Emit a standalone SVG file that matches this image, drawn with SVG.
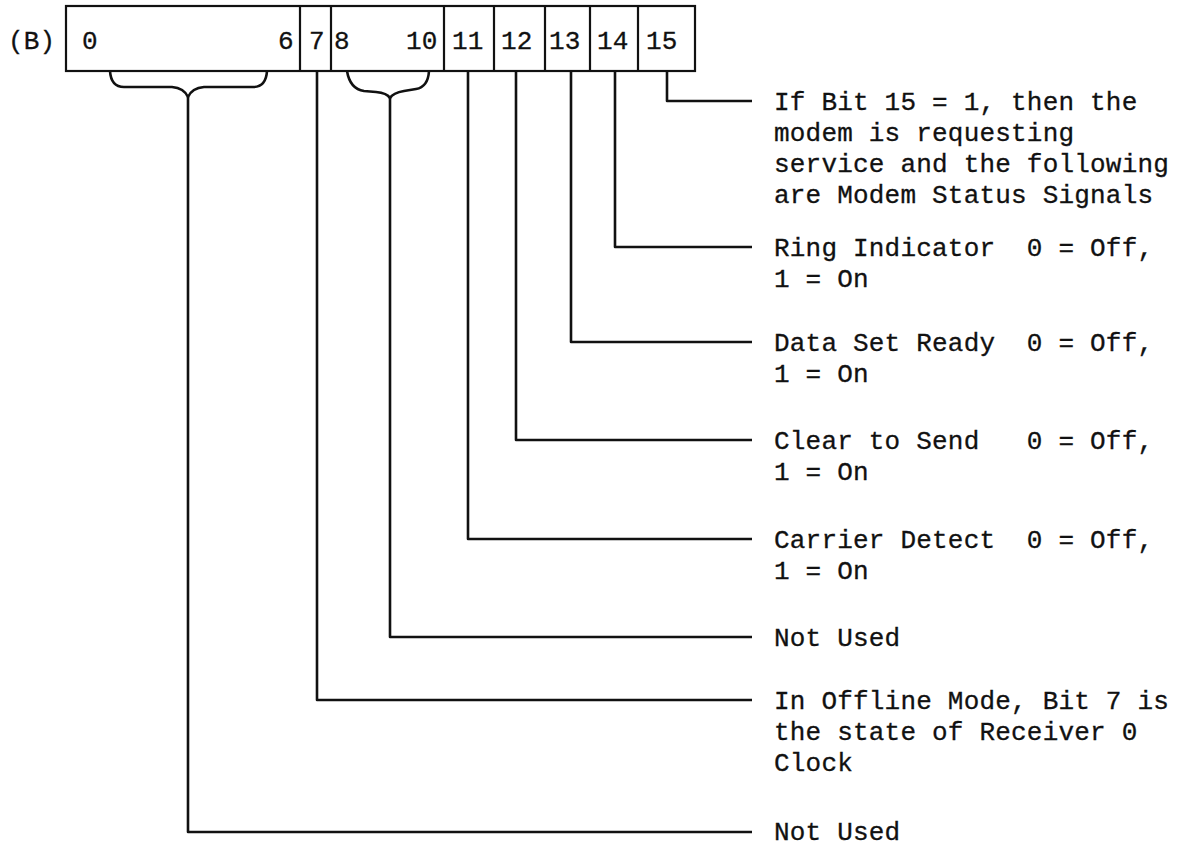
<svg xmlns="http://www.w3.org/2000/svg" width="1190" height="846" viewBox="0 0 1190 846">
<style>
text{font-family:"Liberation Mono","DejaVu Sans Mono",monospace;font-size:26px;fill:#111;stroke:#111;stroke-width:0.3;letter-spacing:0.2px;white-space:pre}
.box{fill:none;stroke:#111;stroke-width:2.2}
.ln{fill:none;stroke:#111;stroke-width:2.6;stroke-linejoin:round}
</style>
<rect width="1190" height="846" fill="#fff"/>
<text x="8" y="49">(B)</text>
<g id="register">
<rect class="box" x="66" y="6" width="629" height="65"/>
<path class="box" d="M300,6V71M331,6V71M444,6V71M494,6V71M545,6V71M590,6V71M638,6V71"/>
<text x="82" y="49">0</text>
<text x="278" y="49">6</text>
<text x="309" y="49">7</text>
<text x="334" y="49">8</text>
<text x="406" y="49">10</text>
<text x="452" y="49">11</text>
<text x="501" y="49">12</text>
<text x="549" y="49">13</text>
<text x="597" y="49">14</text>
<text x="646" y="49">15</text>
</g>
<g id="connectors">
<path class="ln" d="M110,71 Q111,87 124,87 L172,87 Q184,88 188,97 Q192,88 204,87 L253,87 Q266,87 267,71"/>
<path class="ln" d="M347,71 Q350,89 364,91 L376,92 Q387,93 390,98 Q393,93 404,91 L416,89 Q428,87 429,71"/>
<path class="ln" d="M667,71V101H752"/>
<path class="ln" d="M615,71V247H752"/>
<path class="ln" d="M571,71V342H752"/>
<path class="ln" d="M516,71V440H752"/>
<path class="ln" d="M468,71V539H752"/>
<path class="ln" d="M390,98V637H752"/>
<path class="ln" d="M317,71V700H752"/>
<path class="ln" d="M188,97V832H752"/>
</g>
<g id="bit15">
<text x="774" y="110">If Bit 15 = 1, then the</text>
<text x="774" y="141">modem is requesting</text>
<text x="774" y="172">service and the following</text>
<text x="774" y="203">are Modem Status Signals</text>
</g>
<g id="bit14">
<text x="774" y="256">Ring Indicator  0 = Off,</text>
<text x="774" y="287">1 = On</text>
</g>
<g id="bit13">
<text x="774" y="351">Data Set Ready  0 = Off,</text>
<text x="774" y="382">1 = On</text>
</g>
<g id="bit12">
<text x="774" y="449">Clear to Send   0 = Off,</text>
<text x="774" y="480">1 = On</text>
</g>
<g id="bit11">
<text x="774" y="548">Carrier Detect  0 = Off,</text>
<text x="774" y="579">1 = On</text>
</g>
<g id="bits8-10">
<text x="774" y="646">Not Used</text>
</g>
<g id="bit7">
<text x="774" y="709">In Offline Mode, Bit 7 is</text>
<text x="774" y="740">the state of Receiver 0</text>
<text x="774" y="771">Clock</text>
</g>
<g id="bits0-6">
<text x="774" y="840">Not Used</text>
</g>
</svg>
